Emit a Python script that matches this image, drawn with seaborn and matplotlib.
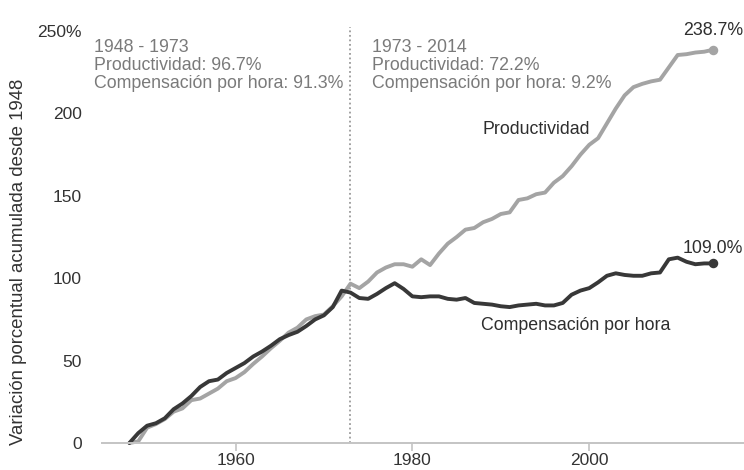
import matplotlib
matplotlib.use("Agg")
import matplotlib.pyplot as plt
import seaborn as sns
import numpy as np
import pandas as pd

years = list(range(1948, 2015))
productividad = [0, 1, 9.3, 11.5, 14.5, 19, 21, 26, 27, 30, 33, 37.5, 39.4, 43, 48, 52.5,
                 57.5, 62, 67, 70, 75, 77, 78, 83, 89, 96.7, 94, 98, 103.5, 106.5, 108.5,
                 108.5, 107, 111.5, 108, 115, 121, 125, 129.5, 130.5, 134, 136, 139, 140,
                 147.5, 148.5, 151, 152, 158, 162, 168, 175, 181, 185, 194, 203, 211, 216,
                 218, 219.5, 220.5, 228, 235.5, 236, 237, 237.5, 238.7]
compensacion = [0, 6, 10.5, 12, 15, 20.5, 24, 28.5, 34, 37.5, 38.5, 42.5, 45.5, 48.5, 52.5,
                55.5, 59, 63, 65.5, 67.5, 71, 75, 77.5, 82.5, 92.5, 91.3, 88, 87.5, 90.5, 94,
                97, 93.5, 89, 88.5, 89, 89, 87.5, 87, 88, 85, 84.5, 84, 83, 82.5, 83.5, 84,
                84.5, 83.5, 83.5, 85, 90, 92.5, 94, 97.5, 101.5, 103, 102, 101.5, 101.5, 103,
                103.5, 111.5, 112.5, 110, 108.5, 109, 109.0]
series_names = ["Productividad", "Compensación por hora"]
y_ticks = [0, 50, 100, 150, 200, 250]
y_tick_labels = ["0", "50", "100", "150", "200", "250%"]
x_ticks = [1960, 1980, 2000]
note_left = "1948 - 1973\nProductividad: 96.7%\nCompensación por hora: 91.3%"
note_right = "1973 - 2014\nProductividad: 72.2%\nCompensación por hora: 9.2%"
y_label = "Variación porcentual acumulada desde 1948"
end_labels = ["238.7%", "109.0%"]

df = pd.DataFrame({
    "year": years * 2,
    "value": productividad + compensacion,
    "serie": [series_names[0]] * len(years) + [series_names[1]] * len(years),
})

sns.set_theme(style="white")
plt.rcParams["font.family"] = ["Liberation Sans", "DejaVu Sans"]

LIGHT = "#a4a4a4"
DARK = "#383838"
TEXT_GRAY = "#7a7a7a"
TEXT_DARK = "#2e2e2e"
FS = 12.8

fig = plt.figure(figsize=(7.44, 4.70), dpi=100)
ax = fig.add_axes([102 / 744, 1 - 443 / 470, 1 - 102 / 744, (443 - 27) / 470])

sns.lineplot(data=df, x="year", y="value", hue="serie", palette=[LIGHT, DARK],
             hue_order=series_names, linewidth=2.8, ax=ax, legend=False)
for ln in ax.lines:
    ln.set_clip_on(False)
    ln.set_solid_capstyle("round")
    ln.set_solid_joinstyle("round")

ax.scatter([years[-1]], [productividad[-1]], s=34, color=LIGHT, zorder=5, clip_on=False)
ax.scatter([years[-1]], [compensacion[-1]], s=34, color=DARK, zorder=5, clip_on=False)

ax.set_xlim(1944.9, 2017.5)
ax.set_ylim(0, 252.5)
ax.axvline(1973, color="#9a9a9a", linestyle=(0, (1, 1.5)), linewidth=1.3, zorder=1)

for s in ["top", "right", "left"]:
    ax.spines[s].set_visible(False)
ax.spines["bottom"].set_color("#c4c4c4")
ax.spines["bottom"].set_linewidth(1.4)

ax.set_yticks(y_ticks)
ax.set_yticklabels(y_tick_labels)
ax.set_xticks(x_ticks)
ax.set_xticklabels([str(t) for t in x_ticks])
ax.tick_params(axis="y", length=0, pad=14.5, labelsize=12.5, labelcolor="#333333")
ax.tick_params(axis="x", length=6, width=1.2, color="#c4c4c4", pad=1.5,
               labelsize=12.5, labelcolor="#333333", bottom=True)
ax.set_xlabel("")
ax.set_ylabel(y_label, fontsize=13.4, color="#333333")
ax.yaxis.set_label_coords(-(102 - 27) / 642, (443 - 262) / 416)

ax.text(1944.0, 245, note_left, ha="left", va="top", fontsize=FS,
        color=TEXT_GRAY, linespacing=1.07)
ax.text(1975.4, 245, note_right, ha="left", va="top", fontsize=FS,
        color=TEXT_GRAY, linespacing=1.07)

ax.text(1987.9, 190, series_names[0], ha="left", va="center", fontsize=FS, color=TEXT_DARK)
ax.text(1987.8, 71.6, series_names[1], ha="left", va="center", fontsize=FS, color=TEXT_DARK)
ax.text(years[-1], 250.6, end_labels[0], ha="center", va="center",
        fontsize=FS, color=TEXT_DARK)
ax.text(years[-1], 118.3, end_labels[1], ha="center", va="center",
        fontsize=FS, color=TEXT_DARK)

fig.savefig("out.png", dpi=100)
